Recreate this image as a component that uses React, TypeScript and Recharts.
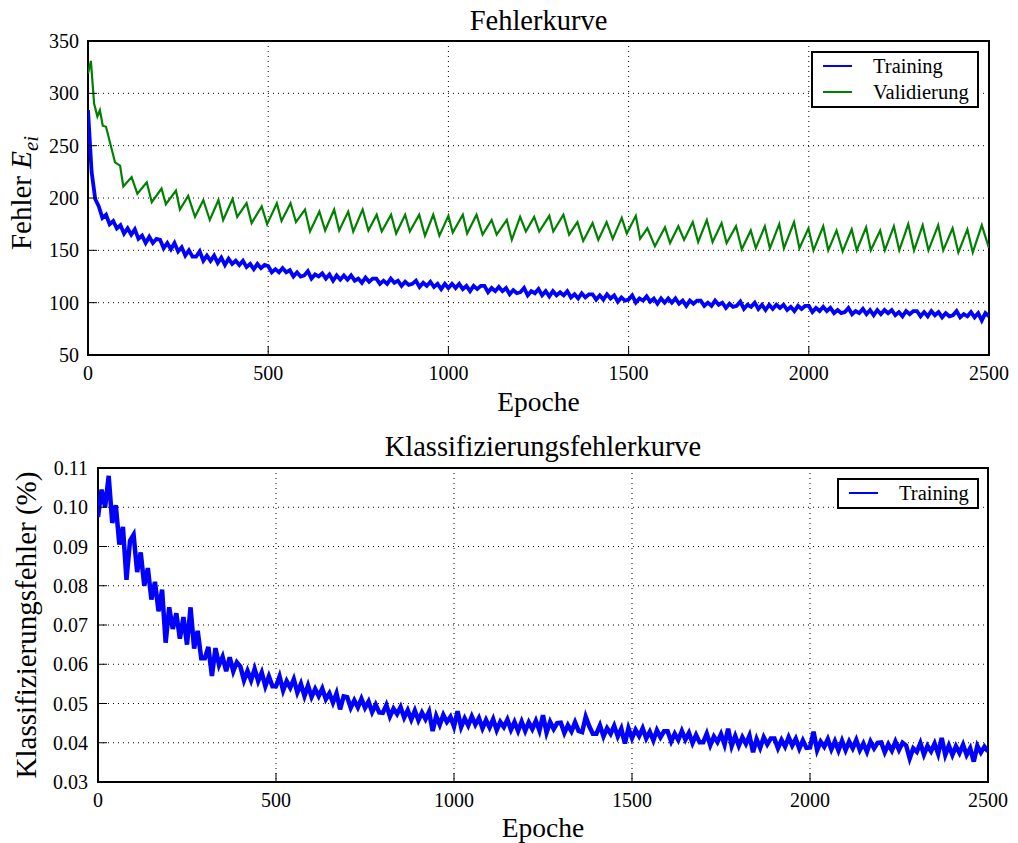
import React from 'react';
import { LineChart, Line, XAxis, YAxis, CartesianGrid, ReferenceArea, Legend } from 'recharts';

const FONT = "'Liberation Serif', 'Times New Roman', 'DejaVu Serif', serif";
const BLUE = '#0000ff';
const GREEN = '#008000';

// ---------- data ----------
const epochTicks = [0, 500, 1000, 1500, 2000, 2500];
const errorTicks = [50, 100, 150, 200, 250, 300, 350];
const classTicks = [0.03, 0.04, 0.05, 0.06, 0.07, 0.08, 0.09, 0.1, 0.11];

// training error E_ei, sampled every 10 epochs (0..2500)
const TRAIN_STEP = 10;
const trainError = [
  284, 225, 199, 192, 181, 184, 175, 178, 171, 174,
  166, 171, 165, 170, 161, 164, 157, 163, 157, 161,
  160, 152, 157, 151, 157, 149, 153, 145, 150, 144,
  144, 149, 140, 145, 140, 145, 138, 143, 136, 142,
  137, 140, 136, 140, 134, 137, 132, 137, 133, 136,
  135, 129, 132, 129, 133, 129, 131, 125, 129, 125,
  126, 130, 123, 127, 125, 128, 123, 127, 121, 126,
  122, 126, 122, 126, 121, 123, 119, 124, 120, 123,
  123, 118, 121, 118, 123, 119, 121, 116, 120, 117,
  118, 121, 115, 119, 116, 120, 115, 118, 113, 118,
  114, 118, 114, 118, 113, 116, 111, 116, 113, 116,
  116, 110, 114, 111, 115, 111, 114, 108, 112, 109,
  110, 114, 107, 111, 109, 113, 107, 111, 106, 111,
  107, 110, 107, 111, 105, 108, 104, 109, 105, 108,
  108, 103, 107, 103, 108, 104, 107, 101, 105, 102,
  103, 107, 100, 104, 102, 106, 101, 104, 99, 104,
  100, 104, 100, 104, 99, 102, 97, 102, 99, 102,
  102, 97, 100, 97, 102, 98, 100, 95, 99, 96,
  97, 101, 94, 98, 96, 100, 94, 98, 93, 98,
  94, 98, 95, 98, 93, 96, 92, 97, 94, 97,
  97, 91, 95, 92, 96, 92, 95, 90, 93, 90,
  91, 95, 89, 92, 90, 94, 89, 93, 88, 93,
  89, 93, 90, 93, 88, 91, 87, 92, 89, 92,
  92, 87, 91, 87, 92, 88, 91, 86, 90, 87,
  88, 92, 86, 89, 87, 91, 86, 90, 83, 90,
  87,
];

// validation error (sawtooth), epoch / value pairs
const valEpochs = [
  0, 8, 17, 26, 33, 41, 50, 75, 89, 98,
  121, 137, 163, 177, 204, 216, 244, 255, 278, 297,
  320, 338, 362, 375, 401, 414, 440, 454, 482, 497,
  524, 537, 562, 577, 602, 616, 642, 658, 683, 697,
  722, 736, 762, 778, 801, 815, 841, 855, 880, 893,
  919, 935, 958, 975, 1000, 1012, 1040, 1052, 1078, 1095,
  1120, 1134, 1162, 1176, 1199, 1215, 1238, 1252, 1280, 1291,
  1319, 1335, 1358, 1374, 1400, 1416, 1439, 1456, 1481, 1495,
  1520, 1532, 1552, 1573, 1601, 1615, 1638, 1654, 1678, 1693,
  1717, 1733, 1758, 1772, 1798, 1814, 1839, 1853, 1878, 1892,
  1918, 1931, 1959, 1974, 1999, 2013, 2040, 2054, 2077, 2094,
  2119, 2133, 2159, 2172, 2198, 2211, 2236, 2251, 2276, 2292,
  2316, 2332, 2359, 2373, 2399, 2415, 2440, 2455, 2480, 2500,
];
const valError = [
  319, 331, 290, 278, 284, 269, 268, 234, 231, 211,
  220, 204, 215, 196, 209, 194, 207, 189, 202, 182,
  198, 179, 198, 179, 199, 182, 195, 176, 192, 175,
  195, 178, 195, 177, 189, 168, 187, 169, 189, 169,
  187, 168, 189, 169, 184, 168, 184, 166, 184, 168,
  184, 164, 184, 164, 183, 167, 184, 166, 184, 165,
  179, 165, 179, 160, 182, 168, 182, 168, 183, 168,
  184, 165, 177, 159, 176, 160, 177, 161, 181, 166,
  183, 161, 171, 154, 172, 157, 173, 160, 177, 158,
  179, 158, 176, 157, 173, 151, 169, 152, 173, 152,
  175, 152, 177, 152, 171, 150, 173, 150, 169, 149,
  170, 150, 172, 150, 169, 150, 173, 150, 175, 150,
  174, 150, 174, 150, 171, 148, 170, 148, 174, 152,
];

// classification error, sampled every 10 epochs (0..2500)
const CLASS_STEP = 10;
const classError = [
  0.0975, 0.1045, 0.1000, 0.1080, 0.0960, 0.1005, 0.0905, 0.0950, 0.0815, 0.0915,
  0.0930, 0.0835, 0.0885, 0.0800, 0.0845, 0.0765, 0.0810, 0.0735, 0.0790, 0.0655,
  0.0745, 0.0690, 0.0730, 0.0665, 0.0720, 0.0650, 0.0745, 0.0640, 0.0685, 0.0615,
  0.0615, 0.0644, 0.0570, 0.0641, 0.0598, 0.0619, 0.0582, 0.0618, 0.0582, 0.0605,
  0.0594, 0.0559, 0.0583, 0.0559, 0.0588, 0.0557, 0.0579, 0.0544, 0.0569, 0.0544,
  0.0544, 0.0569, 0.0533, 0.0557, 0.0540, 0.0562, 0.0528, 0.0550, 0.0519, 0.0546,
  0.0517, 0.0537, 0.0519, 0.0538, 0.0511, 0.0526, 0.0502, 0.0526, 0.0485, 0.0518,
  0.0516, 0.0489, 0.0508, 0.0490, 0.0512, 0.0489, 0.0505, 0.0478, 0.0497, 0.0477,
  0.0476, 0.0496, 0.0467, 0.0487, 0.0473, 0.0491, 0.0464, 0.0483, 0.0459, 0.0482,
  0.0457, 0.0477, 0.0460, 0.0479, 0.0430, 0.0468, 0.0446, 0.0471, 0.0453, 0.0466,
  0.0441, 0.0480, 0.0440, 0.0462, 0.0444, 0.0467, 0.0446, 0.0463, 0.0437, 0.0458,
  0.0439, 0.0460, 0.0432, 0.0453, 0.0440, 0.0459, 0.0433, 0.0453, 0.0430, 0.0454,
  0.0430, 0.0452, 0.0435, 0.0456, 0.0431, 0.0470, 0.0426, 0.0453, 0.0435, 0.0450,
  0.0451, 0.0425, 0.0445, 0.0429, 0.0452, 0.0430, 0.0427, 0.0466, 0.0442, 0.0423,
  0.0423, 0.0444, 0.0416, 0.0437, 0.0423, 0.0443, 0.0416, 0.0436, 0.0398, 0.0437,
  0.0412, 0.0433, 0.0417, 0.0437, 0.0411, 0.0428, 0.0406, 0.0432, 0.0414, 0.0429,
  0.0429, 0.0403, 0.0423, 0.0407, 0.0430, 0.0408, 0.0425, 0.0399, 0.0420, 0.0401,
  0.0401, 0.0423, 0.0394, 0.0416, 0.0402, 0.0422, 0.0395, 0.0436, 0.0392, 0.0417,
  0.0392, 0.0414, 0.0397, 0.0418, 0.0376, 0.0409, 0.0387, 0.0414, 0.0396, 0.0411,
  0.0411, 0.0386, 0.0407, 0.0390, 0.0414, 0.0393, 0.0410, 0.0385, 0.0406, 0.0387,
  0.0388, 0.0428, 0.0381, 0.0403, 0.0390, 0.0409, 0.0383, 0.0404, 0.0380, 0.0405,
  0.0381, 0.0403, 0.0386, 0.0407, 0.0381, 0.0398, 0.0377, 0.0403, 0.0386, 0.0400,
  0.0401, 0.0376, 0.0396, 0.0380, 0.0403, 0.0382, 0.0400, 0.0393, 0.0360, 0.0386,
  0.0377, 0.0399, 0.0370, 0.0392, 0.0378, 0.0398, 0.0372, 0.0412, 0.0369, 0.0393,
  0.0369, 0.0391, 0.0374, 0.0395, 0.0369, 0.0386, 0.0352, 0.0392, 0.0375, 0.0390,
  0.0378,
];

// ---------- tables for the library ----------
const trainData = trainError.map((v, i) => ({ epoch: i * TRAIN_STEP, value: v }));
const valData = valEpochs.map((e, i) => ({ epoch: e, value: valError[i] }));
const classData = classError.map((v, i) => ({ epoch: i * CLASS_STEP, value: v }));

const tickStyle = { fill: '#000', fontSize: 20, fontFamily: FONT };
const gridDash = '1 4';
const noLabel = () => <g />;

type Item = { name: string; color: string };
const LegendBox = ({ items, width }: { items: Item[]; width: number }) => (
  <div
    style={{
      border: '2px solid #000',
      background: '#fff',
      boxSizing: 'border-box',
      width,
      paddingBottom: 1,
      fontFamily: FONT,
      fontSize: 20.5,
      color: '#000',
    }}
  >
    {items.map((it) => (
      <div key={it.name} style={{ display: 'flex', alignItems: 'center', height: 26 }}>
        <svg width={60} height={10} style={{ flex: 'none' }}>
          <line x1={10} x2={39} y1={5} y2={5} stroke={it.color} strokeWidth={2} />
        </svg>
        <span style={{ lineHeight: '26px', whiteSpace: 'nowrap' }}>{it.name}</span>
      </div>
    ))}
  </div>
);

const abs = (s: React.CSSProperties): React.CSSProperties => ({ position: 'absolute', ...s });
const titleFont: React.CSSProperties = { fontFamily: FONT, fontSize: 28.5, lineHeight: '28px', color: '#000', whiteSpace: 'nowrap' };
const labelFont: React.CSSProperties = { fontFamily: FONT, fontSize: 27.5, lineHeight: '28px', color: '#000', whiteSpace: 'nowrap' };
const yLabelFont: React.CSSProperties = { fontFamily: FONT, fontSize: 29, lineHeight: '30px', color: '#000', whiteSpace: 'nowrap' };

export default function App() {
  return (
    <div style={abs({ left: 0, top: 0, width: 1018, height: 843, background: '#fff', fontFamily: FONT })}>
      {/* top chart */}
      <div style={abs({ left: 0, top: 0 })}>
        <LineChart width={1018} height={420} margin={{ top: 41, right: 29, bottom: 35, left: 8 }}>
          <CartesianGrid stroke="#000" strokeDasharray={gridDash} strokeWidth={1} />
          <XAxis
            dataKey="epoch"
            type="number"
            domain={[0, 2500]}
            ticks={epochTicks}
            allowDataOverflow
            height={30}
            axisLine={false}
            tickSize={-9}
            tickMargin={20}
            tickLine={{ stroke: '#000' }}
            tick={tickStyle}
            interval={0}
          />
          <XAxis
            xAxisId="top"
            orientation="top"
            type="number"
            domain={[0, 2500]}
            ticks={epochTicks}
            allowDataOverflow
            height={0}
            axisLine={false}
            tickSize={-9}
            tickLine={{ stroke: '#000' }}
            tick={noLabel}
            interval={0}
          />
          <YAxis
            type="number"
            domain={[50, 350]}
            ticks={errorTicks}
            allowDataOverflow
            width={80}
            axisLine={false}
            tickSize={-9}
            tickMargin={18}
            tickLine={{ stroke: '#000' }}
            tick={tickStyle}
            interval={0}
          />
          <YAxis
            yAxisId="right"
            orientation="right"
            type="number"
            domain={[50, 350]}
            ticks={errorTicks}
            allowDataOverflow
            width={0}
            axisLine={false}
            tickSize={-9}
            tickLine={{ stroke: '#000' }}
            tick={noLabel}
            interval={0}
          />
          <ReferenceArea x1={0} x2={2500} y1={50} y2={350} fill="none" stroke="#000" strokeWidth={2} ifOverflow="visible" />
          <Line data={trainData} dataKey="value" name="Training" stroke={BLUE} strokeWidth={3.8} strokeLinejoin="miter" dot={false} type="linear" isAnimationActive={false} />
          <Line data={valData} dataKey="value" name="Validierung" stroke={GREEN} strokeWidth={2.2} dot={false} type="linear" isAnimationActive={false} />
          <Legend
            layout="horizontal"
            verticalAlign="middle"
            align="center"
            wrapperStyle={{ left: 811, top: 51, width: 168 }}
            content={() => (
              <LegendBox width={168} items={[{ name: 'Training', color: BLUE }, { name: 'Validierung', color: GREEN }]} />
            )}
          />
        </LineChart>
      </div>

      {/* bottom chart */}
      <div style={abs({ left: 0, top: 420 })}>
        <LineChart width={1018} height={423} margin={{ top: 48, right: 30, bottom: 31, left: 18 }}>
          <CartesianGrid stroke="#000" strokeDasharray={gridDash} strokeWidth={1} />
          <XAxis
            dataKey="epoch"
            type="number"
            domain={[0, 2500]}
            ticks={epochTicks}
            allowDataOverflow
            height={30}
            axisLine={false}
            tickSize={-9}
            tickMargin={20}
            tickLine={{ stroke: '#000' }}
            tick={tickStyle}
            interval={0}
          />
          <XAxis
            xAxisId="top"
            orientation="top"
            type="number"
            domain={[0, 2500]}
            ticks={epochTicks}
            allowDataOverflow
            height={0}
            axisLine={false}
            tickSize={-9}
            tickLine={{ stroke: '#000' }}
            tick={noLabel}
            interval={0}
          />
          <YAxis
            type="number"
            domain={[0.03, 0.11]}
            ticks={classTicks}
            allowDataOverflow
            width={80}
            axisLine={false}
            tickSize={-9}
            tickMargin={19}
            tickLine={{ stroke: '#000' }}
            tick={tickStyle}
            tickFormatter={(v: number) => v.toFixed(2)}
            interval={0}
          />
          <YAxis
            yAxisId="right"
            orientation="right"
            type="number"
            domain={[0.03, 0.11]}
            ticks={classTicks}
            allowDataOverflow
            width={0}
            axisLine={false}
            tickSize={-9}
            tickLine={{ stroke: '#000' }}
            tick={noLabel}
            interval={0}
          />
          <ReferenceArea x1={0} x2={2500} y1={0.03} y2={0.11} fill="none" stroke="#000" strokeWidth={2} ifOverflow="visible" />
          <Line data={classData} dataKey="value" name="Training" stroke={BLUE} strokeWidth={4.5} strokeLinejoin="miter" dot={false} type="linear" isAnimationActive={false} />
          <Legend
            layout="horizontal"
            verticalAlign="middle"
            align="center"
            wrapperStyle={{ left: 837, top: 58, width: 142 }}
            content={() => <LegendBox width={142} items={[{ name: 'Training', color: BLUE }]} />}
          />
        </LineChart>
      </div>

      {/* titles and axis labels */}
      <div style={abs({ left: 88, top: 7, width: 901, textAlign: 'center', ...titleFont })}>Fehlerkurve</div>
      <div style={abs({ left: 88, top: 388, width: 901, textAlign: 'center', ...labelFont })}>Epoche</div>
      <div style={abs({ left: 98, top: 433, width: 890, textAlign: 'center', ...titleFont })}>Klassifizierungsfehlerkurve</div>
      <div style={abs({ left: 98, top: 814, width: 890, textAlign: 'center', ...labelFont })}>Epoche</div>
      <div style={abs({ left: 26, top: 193, transform: 'translate(-50%, -50%) rotate(-90deg)', ...yLabelFont })}>
        Fehler <i>E</i>
        <sub style={{ fontSize: 21, fontStyle: 'italic' }}>ei</sub>
      </div>
      <div style={abs({ left: 26, top: 625, transform: 'translate(-50%, -50%) rotate(-90deg)', ...yLabelFont })}>
        Klassifizierungsfehler (%)
      </div>
    </div>
  );
}
